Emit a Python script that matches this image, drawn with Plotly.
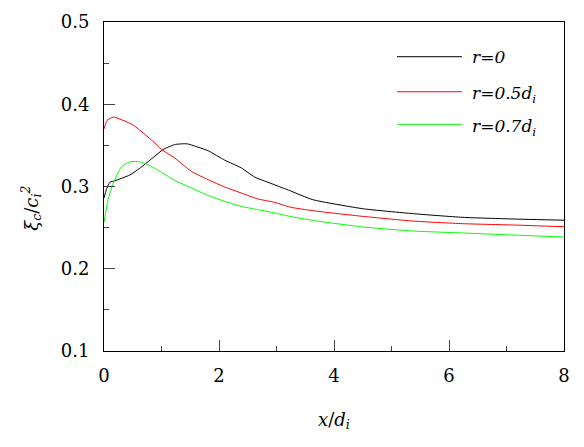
import plotly.graph_objects as go

# values
x_r0 = [0, 0.04, 0.1, 0.19, 0.45, 0.62, 0.85, 1.03, 1.23, 1.40, 1.46, 1.81, 2.10,
        2.39, 2.62, 2.97, 3.23, 3.63, 4.5, 5.37, 6.24, 7.11, 8.0]
y_r0 = [0.286, 0.296, 0.305, 0.307, 0.314, 0.322, 0.335, 0.345, 0.351, 0.352, 0.3517,
        0.3435, 0.332, 0.3225, 0.3115, 0.302, 0.295, 0.284, 0.273, 0.267, 0.2625,
        0.2605, 0.259]

x_r05 = [0, 0.05, 0.16, 0.5, 0.85, 1.0, 1.23, 1.52, 1.81, 2.10, 2.39, 2.68, 2.97,
         3.23, 3.63, 4.5, 5.37, 6.24, 7.11, 8.0]
y_r05 = [0.370, 0.380, 0.3845, 0.375, 0.355, 0.345, 0.3346, 0.3184, 0.3083, 0.2994,
         0.292, 0.2848, 0.2807, 0.275, 0.2706, 0.2637, 0.258, 0.2548, 0.2532, 0.2511]

x_r07 = [0, 0.07, 0.16, 0.30, 0.45, 0.62, 0.8, 1.02, 1.23, 1.52, 1.81, 2.10, 2.39,
         2.68, 2.97, 3.23, 3.63, 4.5, 5.37, 6.24, 7.11, 8.0]
y_r07 = [0.2564, 0.284, 0.304, 0.3237, 0.330, 0.330, 0.3253, 0.3164, 0.3075, 0.2982,
         0.2892, 0.2819, 0.2758, 0.2718, 0.2678, 0.2637, 0.2588, 0.2508, 0.2459,
         0.2435, 0.241, 0.2386]

names = ["<i>r</i>=<i>0</i>", "<i>r</i>=<i>0.5d<sub>i</sub></i>", "<i>r</i>=<i>0.7d<sub>i</sub></i>"]
colors = ["#000000", "#ff0000", "#00ff00"]

# Liberation Serif is not picked up by the browser here, DejaVu Serif is
serif = "DejaVu Serif"

fig = go.Figure()
for xs, ys, c in zip([x_r0, x_r05, x_r07], [y_r0, y_r05, y_r07], colors):
    fig.add_trace(go.Scatter(x=xs, y=ys, mode="lines", showlegend=False,
                             line=dict(color=c, width=1, shape="spline", smoothing=0.5)))

# hand-drawn legend, like the original
leg_y = [0.8945, 0.788, 0.689]
for name, c, ly in zip(names, colors, leg_y):
    fig.add_shape(type="line", xref="paper", yref="paper", x0=0.637, x1=0.778,
                  y0=ly, y1=ly, line=dict(color=c, width=1))
    fig.add_annotation(xref="paper", yref="paper", x=0.796, y=ly, text=name,
                       showarrow=False, xanchor="left", yanchor="middle",
                       yshift=0 if "sub" not in name else -3,
                       font=dict(family=serif, size=17, color="#000000"))

fig.add_annotation(xref="paper", yref="paper", x=-0.159, y=0.435,
                   text="<i>ξ<sub>c</sub></i>/<i>c<sub>i</sub><sup>2</sup></i>",
                   textangle=-90, showarrow=False, xanchor="center", yanchor="middle",
                   font=dict(family=serif, size=18, color="#000000"))

# the page body has an 8px margin, so the figure is 8px smaller and top/left margins shifted
fig.update_layout(
    width=576, height=439,
    margin=dict(l=96, r=20, t=14, b=96),
    plot_bgcolor="white", paper_bgcolor="white",
    font=dict(family=serif, size=18, color="#000000"),
    xaxis=dict(range=[0, 8], dtick=2, tick0=0, ticks="inside", ticklen=11, tickwidth=1,
               minor=dict(dtick=1, ticks="inside", ticklen=5, tickwidth=1),
               showline=True, linecolor="black", linewidth=1, mirror=True,
               showgrid=False, zeroline=False, ticklabelstandoff=8, automargin=False,
               title=dict(text="<i>x</i>/<i>d<sub>i</sub></i>", standoff=28,
                          font=dict(family=serif, size=18))),
    yaxis=dict(range=[0.1, 0.5], dtick=0.1, tick0=0.1, ticks="inside", ticklen=11, tickwidth=1,
               minor=dict(dtick=0.05, ticks="inside", ticklen=5, tickwidth=1),
               showline=True, linecolor="black", linewidth=1, mirror=True, automargin=False,
               showgrid=False, zeroline=False, tickformat=".1f", ticklabelstandoff=10),
)

fig.write_html("out.html")
